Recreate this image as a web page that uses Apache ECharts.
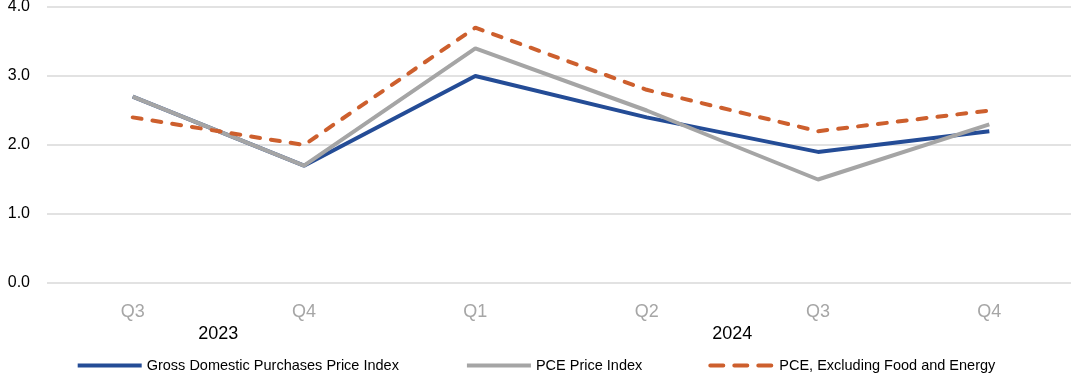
<!DOCTYPE html>
<html>
<head>
<meta charset="utf-8">
<script src="https://cdn.jsdelivr.net/npm/echarts@6/dist/echarts.min.js"></script>
<style>html,body{margin:0;padding:0;background:#fff;}#c{width:1071px;height:374px;}</style>
</head>
<body>
<div id="c"></div>
<script>
var quarters = ['Q3', 'Q4', 'Q1', 'Q2', 'Q3', 'Q4'];
var yearLabels = ['2023', '2024'];
var yearPositions = [1, 4];
var seriesNames = ['Gross Domestic Purchases Price Index', 'PCE Price Index', 'PCE, Excluding Food and Energy'];
var grossDomestic = [2.7, 1.7, 3.0, 2.4, 1.9, 2.2];
var pceIndex = [2.7, 1.7, 3.4, 2.5, 1.5, 2.3];
var pceCore = [2.4, 2.0, 3.7, 2.8, 2.2, 2.5];
var yTicks = [0, 1, 2, 3, 4];

var chart = echarts.init(document.getElementById('c'));
var font = 'Liberation Sans, Arial, sans-serif';
chart.setOption({
  animation: false,
  grid: { left: 47, top: 7, width: 1028, height: 276, containLabel: false, outerBoundsMode: 'none' },
  legend: {
    bottom: -4, left: 'center',
    itemWidth: 64, itemHeight: 14, itemGap: 66,
    itemStyle: { opacity: 0 },
    lineStyle: { width: 4 },
    textStyle: { fontFamily: font, fontSize: 14.5, color: '#000' },
    data: [
      { name: seriesNames[0] },
      { name: seriesNames[1] },
      { name: seriesNames[2], lineStyle: { width: 4, type: [13, 11], cap: 'round' } }
    ]
  },
  xAxis: [{
    type: 'category', data: quarters, boundaryGap: true,
    axisLine: { show: false }, axisTick: { show: false },
    axisLabel: { fontFamily: font, fontSize: 18, color: '#a6a6a6', margin: 20 }
  }, {
    type: 'value', position: 'bottom', min: 0, max: 6, interval: 1,
    axisLine: { show: false }, axisTick: { show: false }, splitLine: { show: false },
    axisLabel: {
      fontFamily: font, fontSize: 18, color: '#000', margin: 42,
      formatter: function (v) { var i = yearPositions.indexOf(v); return i >= 0 ? yearLabels[i] : ''; }
    }
  }],
  yAxis: {
    type: 'value', min: yTicks[0], max: yTicks[yTicks.length - 1], interval: 1,
    axisLine: { show: false }, axisTick: { show: false },
    splitLine: { lineStyle: { color: '#d9d9d9', width: 1.5 } },
    axisLabel: { fontFamily: font, fontSize: 16, color: '#000', margin: 17,
      formatter: function (v) { return v.toFixed(1); } }
  },
  series: [{
    name: seriesNames[0], type: 'line', data: grossDomestic, symbol: 'none', z: 2,
    lineStyle: { color: '#244c96', width: 4 }, itemStyle: { color: '#244c96' }
  }, {
    name: seriesNames[1], type: 'line', data: pceIndex, symbol: 'none', z: 3,
    lineStyle: { color: '#a5a5a5', width: 4 }, itemStyle: { color: '#a5a5a5' }
  }, {
    name: seriesNames[2], type: 'line', data: pceCore, symbol: 'none', z: 4,
    lineStyle: { color: '#cd5f2d', width: 4, type: [9, 11], cap: 'round' }, itemStyle: { color: '#cd5f2d' }
  }]
});
</script>
</body>
</html>
